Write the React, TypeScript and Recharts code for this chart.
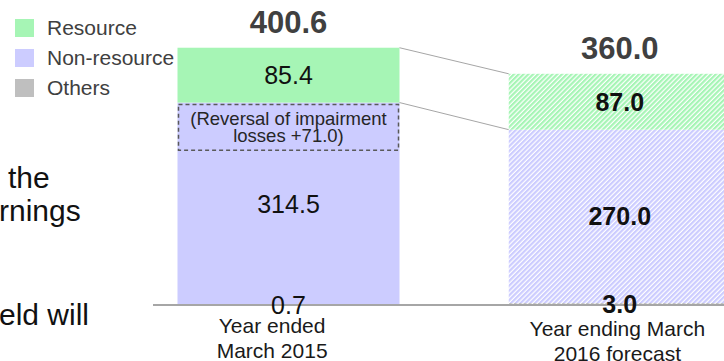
import React from 'react';
import { BarChart, Bar, XAxis, YAxis, Cell, LabelList, Legend } from 'recharts';

const periods = ['Year ended\nMarch 2015', 'Year ending March\n2016 forecast'];
const resource = [85.4, 87.0];
const nonResource = [314.5, 270.0];
const others = [0.7, 3.0];
const impairment = [71.0, 0];
const totals = [400.6, 360.0];

const legendItems = [
  { name: 'Resource', color: '#a6f5b5' },
  { name: 'Non-resource', color: '#ccccff' },
  { name: 'Others', color: '#bfbfbf' },
];

const data = periods.map((period, i) => ({
  period,
  resource: resource[i],
  nonResource: nonResource[i],
  others: others[i],
  impairment: impairment[i],
  total: totals[i],
}));

const FONT = '"Liberation Sans", Arial, sans-serif';
const BAND = 331.25;
const AXIS_Y = 305;

const solidFill = {
  resource: '#a6f5b5',
  nonResource: '#ccccff',
  others: '#bfbfbf',
};
const hatchFill = {
  resource: 'url(#hatchGreen)',
  nonResource: 'url(#hatchBlue)',
  others: 'url(#hatchGrey)',
};

function ResourceShape(props: any) {
  const { x, y, width, height, fill, index, payload } = props;
  const k = height / payload.resource;
  const zeroY = y + payload.total * k;
  const next = data[index + 1];
  return (
    <g>
      <rect x={x} y={y} width={width} height={height} fill={fill} />
      {next && (
        <g stroke="#a6a6a6" strokeWidth={1}>
          <line x1={x + width} y1={y} x2={x + BAND} y2={zeroY - next.total * k} />
          <line
            x1={x + width}
            y1={y + height}
            x2={x + BAND}
            y2={zeroY - (next.nonResource + next.others) * k}
          />
        </g>
      )}
    </g>
  );
}

function NonResourceShape(props: any) {
  const { x, y, width, height, fill, payload } = props;
  const k = height / payload.nonResource;
  const h = payload.impairment * k;
  return (
    <g>
      <rect x={x} y={y} width={width} height={height} fill={fill} />
      {h > 0 && (
        <g>
          <rect
            x={x + 1}
            y={y + 2}
            width={width - 2}
            height={h}
            fill="none"
            stroke="#595959"
            strokeWidth={1.5}
            strokeDasharray="4 3"
          />
          <text x={x + width / 2} y={y + 22} textAnchor="middle" fontSize={18.5} fontFamily={FONT} fill="#262626">
            (Reversal of impairment
          </text>
          <text x={x + width / 2} y={y + 39} textAnchor="middle" fontSize={18.5} fontFamily={FONT} fill="#262626">
            {`losses +${payload.impairment.toFixed(1)})`}
          </text>
        </g>
      )}
    </g>
  );
}

function valueLabel(props: any) {
  const vb = props.viewBox || props;
  const cx = vb.x + vb.width / 2;
  const cy = vb.y + vb.height / 2;
  const bold = props.index === 1;
  return (
    <text
      x={cx}
      y={cy + 9}
      textAnchor="middle"
      fontSize={25}
      fontWeight={bold ? 'bold' : 'normal'}
      fontFamily={FONT}
      fill="#111"
    >
      {Number(props.value).toFixed(1)}
    </text>
  );
}

function totalLabel(props: any) {
  const vb = props.viewBox || props;
  return (
    <text
      x={vb.x + vb.width / 2}
      y={vb.y - 15}
      textAnchor="middle"
      fontSize={31}
      fontWeight="bold"
      fontFamily={FONT}
      fill="#404040"
    >
      {Number(props.value).toFixed(1)}
    </text>
  );
}

// the first category label sits a little left of its bar in the original slide
const tickShift = [
  { dx: -16, dy: -1 },
  { dx: -2, dy: 2 },
];

function PeriodTick(props: any) {
  const { x, payload, index } = props;
  const lines = String(payload.value).split('\n');
  const i0 = index ?? payload.index ?? 0;
  const shift = tickShift[i0] || tickShift[0];
  return (
    <text textAnchor="middle" fontSize={21} fontFamily={FONT} fill="#1a1a1a">
      {lines.map((l, i) => (
        <tspan key={i} x={x + shift.dx} y={AXIS_Y + 29 + shift.dy + i * 25}>
          {l}
        </tspan>
      ))}
    </text>
  );
}

function LegendBox() {
  return (
    <div style={{ fontFamily: FONT, fontSize: 21, color: '#404040' }}>
      {legendItems.map((item) => (
        <div key={item.name} style={{ display: 'flex', alignItems: 'center', height: 30 }}>
          <span style={{ width: 19, height: 18, background: item.color, display: 'inline-block', marginRight: 13 }} />
          <span>{item.name}</span>
        </div>
      ))}
    </div>
  );
}

const slideText = ['the', 'rnings', 'eld will'];

const sideStyle: React.CSSProperties = {
  position: 'absolute',
  fontFamily: FONT,
  fontSize: 30,
  lineHeight: 1,
  color: '#111',
  whiteSpace: 'nowrap',
};

export default function App() {
  return (
    <div style={{ position: 'fixed', left: 0, top: 0, width: 724, height: 361, overflow: 'hidden', background: '#fff' }}>
      <svg width={0} height={0} style={{ position: 'absolute' }}>
        <defs>
          <pattern id="hatchGreen" patternUnits="userSpaceOnUse" width={3.4} height={3.4} patternTransform="rotate(45)">
            <rect width={3.4} height={3.4} fill="#ffffff" />
            <rect width={2.2} height={3.4} fill="#a6f5b5" />
          </pattern>
          <pattern id="hatchBlue" patternUnits="userSpaceOnUse" width={3.4} height={3.4} patternTransform="rotate(45)">
            <rect width={3.4} height={3.4} fill="#ffffff" />
            <rect width={2.2} height={3.4} fill="#ccccff" />
          </pattern>
          <pattern id="hatchGrey" patternUnits="userSpaceOnUse" width={3.4} height={3.4} patternTransform="rotate(45)">
            <rect width={3.4} height={3.4} fill="#ffffff" />
            <rect width={2.2} height={3.4} fill="#bfbfbf" />
          </pattern>
        </defs>
      </svg>
      <BarChart
        width={785}
        height={361}
        data={data}
        margin={{ top: 16, right: 0, left: 153, bottom: 6 }}
      >
        <XAxis
          dataKey="period"
          height={50}
          interval={0}
          tickLine={false}
          axisLine={{ stroke: '#a6a6a6', strokeWidth: 2 }}
          padding={{ left: -30.5, right: 0 }}
          tick={<PeriodTick />}
        />
        <YAxis hide domain={[0, 450]} />
        <Legend
          layout="vertical"
          align="center"
          verticalAlign="middle"
          wrapperStyle={{ left: 15, top: 13, width: 220 }}
          content={() => <LegendBox />}
        />
        <Bar dataKey="others" stackId="a" barSize={222} isAnimationActive={false}>
          {data.map((_, i) => (
            <Cell key={i} fill={i === 0 ? solidFill.others : hatchFill.others} />
          ))}
          <LabelList dataKey="others" content={valueLabel} />
        </Bar>
        <Bar dataKey="nonResource" stackId="a" barSize={222} isAnimationActive={false} shape={<NonResourceShape />}>
          {data.map((_, i) => (
            <Cell key={i} fill={i === 0 ? solidFill.nonResource : hatchFill.nonResource} />
          ))}
          <LabelList dataKey="nonResource" content={valueLabel} />
        </Bar>
        <Bar dataKey="resource" stackId="a" barSize={222} isAnimationActive={false} shape={<ResourceShape />}>
          {data.map((_, i) => (
            <Cell key={i} fill={i === 0 ? solidFill.resource : hatchFill.resource} />
          ))}
          <LabelList dataKey="resource" content={valueLabel} />
          <LabelList dataKey="total" content={totalLabel} />
        </Bar>
      </BarChart>
      <div style={{ ...sideStyle, left: 8, top: 163 }}>{slideText[0]}</div>
      <div style={{ ...sideStyle, left: -1, top: 196 }}>{slideText[1]}</div>
      <div style={{ ...sideStyle, left: -1, top: 300 }}>{slideText[2]}</div>
    </div>
  );
}
